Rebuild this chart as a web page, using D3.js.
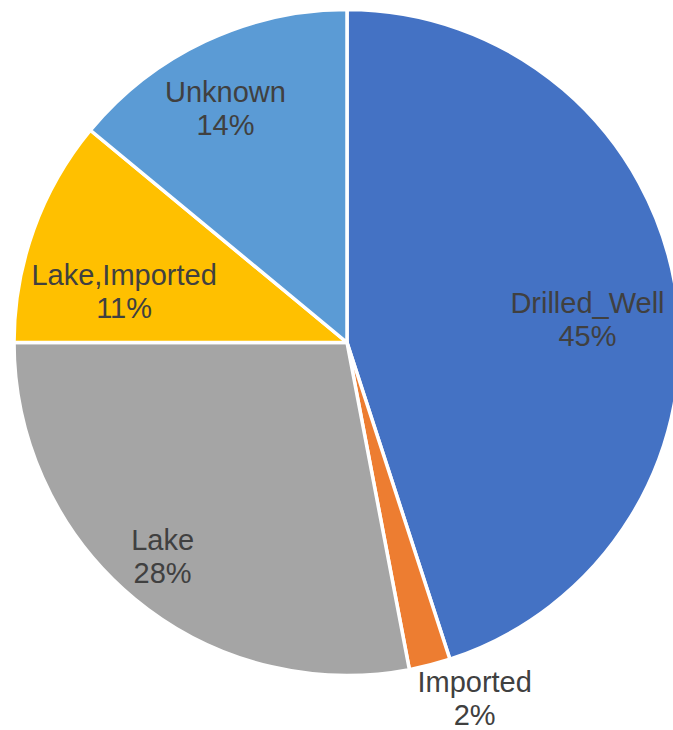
<!DOCTYPE html>
<html>
<head>
<meta charset="utf-8">
<script src="https://cdn.jsdelivr.net/npm/d3@7/dist/d3.min.js"></script>
<style>
  html, body { margin: 0; padding: 0; background: #ffffff; }
  svg { display: block; }
</style>
</head>
<body>
<svg id="chart" width="673" height="730"></svg>
<script>
// Water source shares (percent), clockwise from 12 o'clock
const categories = ["Drilled_Well", "Imported", "Lake", "Lake,Imported", "Unknown"];
const shares = [45, 2, 28, 11, 14];
const colors = ["#4472C4", "#ED7D31", "#A5A5A5", "#FFC000", "#5B9BD5"];

// Label placement: angle nudge (degrees) from slice middle, radius as fraction of pie radius
const labelNudge = [3.5, -5.3, 1.2, -7.0, -2.2];
const labelRadius = [0.7255, 1.137, 0.8474, 0.6865, 0.793];

const width = 673, height = 730;
const cx = 347, cy = 342.5, R = 333;

const svg = d3.select("#chart");
const g = svg.append("g").attr("transform", `translate(${cx},${cy})`);

const data = categories.map((c, i) => ({ name: c, value: shares[i], i }));

const pie = d3.pie().value(d => d.value).sort(null);
const arc = d3.arc().innerRadius(0).outerRadius(R);
const arcs = pie(data);

g.selectAll("path.slice")
  .data(arcs)
  .join("path")
  .attr("class", "slice")
  .attr("d", arc)
  .attr("fill", d => colors[d.data.i])
  .attr("stroke", "#ffffff")
  .attr("stroke-width", 3.5)
  .attr("stroke-linejoin", "round");

const fmt = d3.format(".0%");
const fontSize = 29;

const labels = g.selectAll("g.label")
  .data(arcs)
  .join("g")
  .attr("class", "label")
  .attr("transform", d => {
    const mid = (d.startAngle + d.endAngle) / 2 + labelNudge[d.data.i] * Math.PI / 180;
    const r = R * labelRadius[d.data.i];
    const x = r * Math.sin(mid);
    const y = -r * Math.cos(mid);
    return `translate(${x},${y})`;
  });

labels.append("text")
  .attr("text-anchor", "middle")
  .attr("y", -6.5)
  .attr("font-family", "'Liberation Sans', Arial, sans-serif")
  .attr("font-size", fontSize)
  .attr("fill", "#404040")
  .text(d => d.data.name);

labels.append("text")
  .attr("text-anchor", "middle")
  .attr("y", 26.5)
  .attr("font-family", "'Liberation Sans', Arial, sans-serif")
  .attr("font-size", fontSize)
  .attr("fill", "#404040")
  .text(d => fmt(d.data.value / 100));
</script>
</body>
</html>
